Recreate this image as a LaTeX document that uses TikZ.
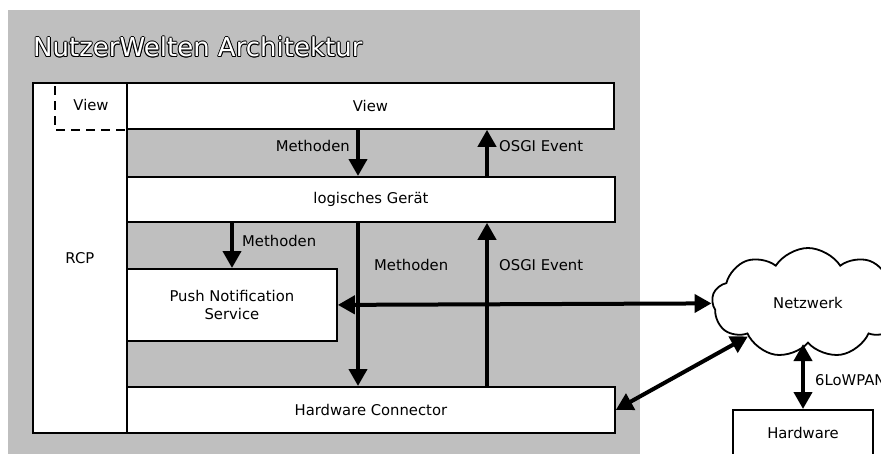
\documentclass[tikz,border=0pt]{standalone}
\usepackage{fontspec}
\setmainfont{DejaVu Sans}
\usetikzlibrary{arrows.meta,shapes.symbols}
\definecolor{panelgray}{RGB}{191,191,191}
% one shifted black copy of a text, taking no width
\newcommand\shadecopy[3]{\makebox[0pt][l]{\kern#1\raisebox{#2}{\textcolor{black}{#3}}}}
% white text with a thin black outline
\newcommand\outlined[1]{%
  \shadecopy{0.9pt}{0pt}{#1}\shadecopy{-0.9pt}{0pt}{#1}%
  \shadecopy{0pt}{0.9pt}{#1}\shadecopy{0pt}{-0.9pt}{#1}%
  \shadecopy{0.65pt}{0.65pt}{#1}\shadecopy{-0.65pt}{0.65pt}{#1}%
  \shadecopy{0.65pt}{-0.65pt}{#1}\shadecopy{-0.65pt}{-0.65pt}{#1}%
  \textcolor{white}{#1}}
\tikzset{
  box/.style={draw=black, line width=1.8pt, fill=white, inner sep=0pt, anchor=north west,
    font=\fontsize{14.8}{17.5}\selectfont, align=center},
  lbl/.style={inner sep=0pt, font=\fontsize{14.8}{17.5}\selectfont},
  flow/.style={line width=4pt, -{Triangle[length=17pt,width=18pt]}},
  biflow/.style={line width=4pt, {Triangle[length=17pt,width=18pt]}-{Triangle[length=17pt,width=18pt]}},
  titletext/.style={inner sep=0pt, anchor=west, font=\fontsize{26}{30}\selectfont},
}
\begin{document}
\begin{tikzpicture}[x=1pt,y=-1pt]
\useasboundingbox (0,0) rectangle (881,453);
\clip (0,0) rectangle (881,453);

% grey panel of the architecture
\fill[panelgray] (8,10) rectangle (640,460);

% outlined title
\node[titletext] (title) at (33,47) {\outlined{NutzerWelten Architektur}};

% layers
\node[box, minimum width=94pt, minimum height=350pt] (rcp) at (32,82) {RCP};
\node[box, minimum width=487pt, minimum height=46pt] (view) at (126,82) {View};
\node[box, minimum width=488pt, minimum height=45pt] (logic) at (126,176) {logisches Gerät};
\node[box, minimum width=210pt, minimum height=72pt] (push) at (126,268) {Push Notification\\Service};
\node[box, minimum width=488pt, minimum height=46pt] (hwc) at (126,386) {Hardware Connector};

% embedded view inside RCP
\coordinate (dashx) at (55,0);
\draw[line width=1.8pt, dash pattern=on 9pt off 6pt, dash phase=-4pt]
  (rcp.north west -| dashx) -- (view.south west -| dashx) -- (view.south west);
\node[lbl] (smallview) at (91,105) {View};

% arrow columns
\coordinate (colA) at (358,0);
\coordinate (colB) at (487,0);
\coordinate (colC) at (232,0);

\draw[flow] (view.south -| colA) -- (logic.north -| colA);
\draw[flow] (logic.north -| colB) -- (view.south -| colB);
\draw[flow] (logic.south -| colC) -- (push.north -| colC);
\draw[flow] (logic.south -| colA) -- (hwc.north -| colA);
\draw[flow] (hwc.north -| colB) -- (logic.south -| colB);

\node[lbl, anchor=east] (m1) at (350,146) {Methoden};
\node[lbl, anchor=west] (o1) at (499,146) {OSGI Event};
\node[lbl, anchor=west] (m2) at (242,241) {Methoden};
\node[lbl, anchor=west] (m3) at (374,265) {Methoden};
\node[lbl, anchor=west] (o2) at (499,265) {OSGI Event};

% network and hardware
\node[cloud, draw, line width=1.8pt, fill=white, cloud puffs=9, cloud puff arc=115, aspect=1.8,
      minimum width=192pt, minimum height=110pt, lbl] (net) at (808,303) {Netzwerk};
\node[box, minimum width=140pt, minimum height=60pt, anchor=north] (hw) at (803,409) {};
\node[lbl] (hwtext) at (803,433) {Hardware};

\draw[biflow] (push.east) -- (net);
\draw[biflow] (hwc.east) -- (net);
\draw[biflow] (hw.north) -- (hw.north |- net.south);
\node[lbl, anchor=west] (lowpan) at (815,380) {6LoWPAN};
\end{tikzpicture}
\end{document}
